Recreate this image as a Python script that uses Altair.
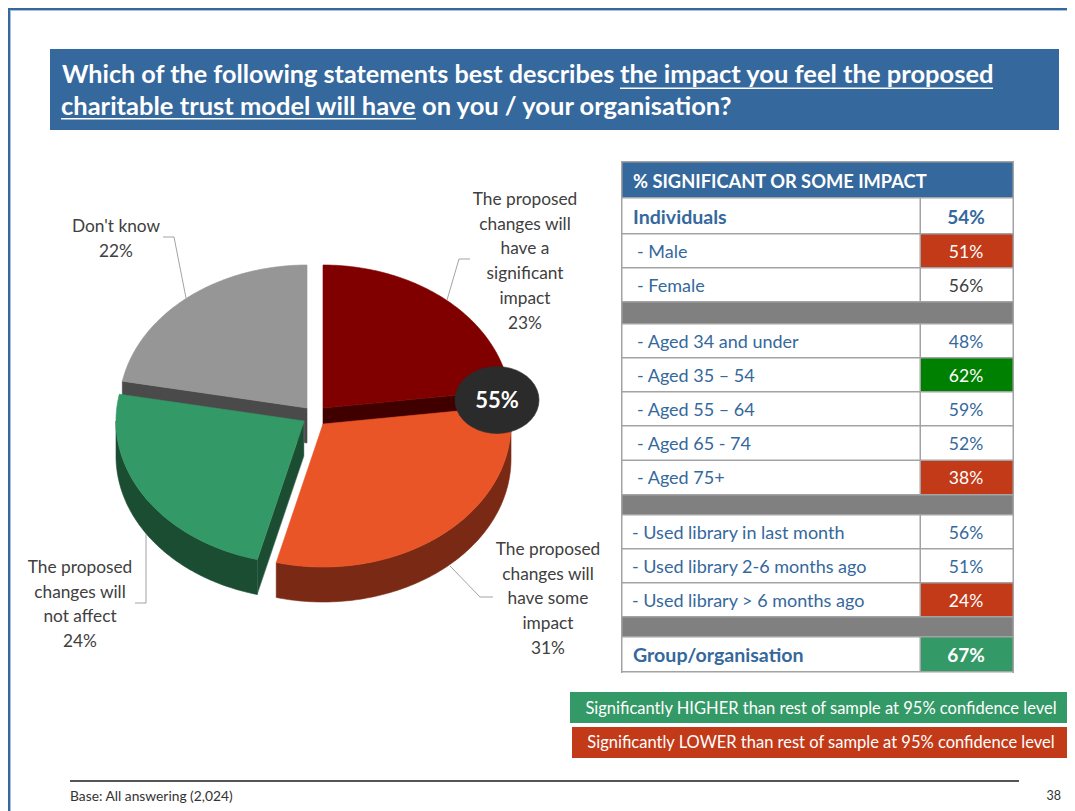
import math
import altair as alt
import pandas as pd

# ---- data -------------------------------------------------------------
pie_names = ["significant", "some", "not_affect", "dont_know"]
pie_values = [23, 31, 24, 22]
pie_labels = [
    ["The proposed", "changes will", "have a", "significant", "impact", "23%"],
    ["The proposed", "changes will", "have some", "impact", "31%"],
    ["The proposed", "changes will", "not affect", "24%"],
    ["Don't know", "22%"],
]
callout = "55%"

table_header = "% SIGNIFICANT OR SOME IMPACT"
table_labels = ["Individuals", "- Male", "- Female", None,
                "- Aged 34 and under", "- Aged 35 – 54", "- Aged 55 – 64", "- Aged 65 - 74", "- Aged 75+", None,
                "- Used library in last month", "- Used library 2-6 months ago", "- Used library > 6 months ago", None,
                "Group/organisation"]
table_values = ["54%", "51%", "56%", None, "48%", "62%", "59%", "52%", "38%", None, "56%", "51%", "24%", None, "67%"]
table_status = ["b", "low", "k", None, "n", "hi", "n", "n", "low", None, "n", "n", "low", None, "bhi"]

title_parts = ["Which of the following statements best describes",
               "the impact you feel the proposed",
               "charitable trust model will have",
               "on you / your organisation?"]
legend_texts = ["Significantly HIGHER than rest of sample at 95% confidence level",
                "Significantly LOWER than rest of sample at 95% confidence level"]
footer_text = "Base: All answering (2,024)"
page_number = "38"

# ---- style ------------------------------------------------------------
FONT = "Lato"
BLUE = "#35689c"
RED = "#c33a19"
GREEN = "#339966"
DKGREEN = "#008000"
GRAY = "#808080"
LINE = "#a3a3a3"
TXT = "#404040"

W, H = 1059, 803
xs = alt.Scale(domain=[8, 8 + W], range=[0, W])
ys = alt.Scale(domain=[8, 8 + H], range=[0, H])
layers = []


def X(f):
    return alt.X(f, type="quantitative", scale=xs, axis=None)


def Y(f):
    return alt.Y(f, type="quantitative", scale=ys, axis=None)


def rect(x0, x1, y0, y1, color):
    d = pd.DataFrame({"a": [x0], "b": [min(x1, 8 + W)], "c": [y0], "d": [y1]})
    layers.append(alt.Chart(d).mark_rect(color=color, strokeWidth=0).encode(
        x=X("a"), x2="b", y=Y("c"), y2="d"))


def text(x, y, s, size=16, color=TXT, weight="normal", align="left"):
    d = pd.DataFrame({"a": [x], "b": [y + 1], "t": [s]})
    layers.append(alt.Chart(d).mark_text(font=FONT, fontSize=size, color=color, fontWeight=weight,
                                         align=align, baseline="middle").encode(
        x=X("a"), y=Y("b"), text="t:N"))


def poly(points, color, stroke=None, sw=0.6):
    d = pd.DataFrame({"a": [p[0] for p in points], "b": [p[1] for p in points], "o": range(len(points))})
    layers.append(alt.Chart(d).mark_line(fill=color, stroke=stroke or color, strokeWidth=sw,
                                         interpolate="linear-closed").encode(
        x=X("a"), y=Y("b"), order=alt.Order("o:Q")))


def path(points, color, sw=1.0):
    d = pd.DataFrame({"a": [p[0] for p in points], "b": [p[1] for p in points], "o": range(len(points))})
    layers.append(alt.Chart(d).mark_line(color=color, strokeWidth=sw).encode(
        x=X("a"), y=Y("b"), order=alt.Order("o:Q")))


# ---- frame and title --------------------------------------------------
rect(8, 1075, 8, 10, BLUE)
rect(8, 10, 8, 811, BLUE)
rect(10, 1075, 10, 11, "#a9c0d8")
rect(10, 11, 10, 811, "#a9c0d8")
rect(50, 1059, 49, 130, BLUE)
text(62, 74, title_parts[0], 25.2, "white", "bold")
text(620, 74, title_parts[1], 25.5, "white", "bold")
text(61, 106, title_parts[2], 25.5, "white", "bold")
text(422, 106, title_parts[3], 25.5, "white", "bold")
rect(620, 993, 87.5, 89, "white")
rect(61, 416, 118, 119.5, "white")

# ---- pie --------------------------------------------------------------
RX, RY, DEPTH = 188, 143, 35
centers = [(323, 408), (323, 424), (304, 421), (307, 408)]
tops = ["#800000", "#e95526", "#339966", "#969696"]
cut_walls = ["#400000", "#7a2a14", "#1b4d33", "#4a4a4a"]
outer_walls = ["#400000", "#7a2a14", "#1b4d33", "#4a4a4a"]
total = sum(pie_values)
edges = [0]
for v in pie_values:
    edges.append(edges[-1] + v / total * 2 * math.pi)


def arc_pts(c, a0, a1, dy=0):
    n = max(2, int(abs(a1 - a0) * 60))
    return [(c[0] + RX * math.sin(a0 + (a1 - a0) * i / n),
             c[1] - RY * math.cos(a0 + (a1 - a0) * i / n) + dy) for i in range(n + 1)]


def sector(i):
    c = centers[i]
    a0, a1 = edges[i], edges[i + 1]
    if i == 0:
        e = arc_pts(c, a1, a1)[0]
        poly([c, e, (e[0], e[1] + DEPTH), (c[0], c[1] + DEPTH)], cut_walls[i])
    if i == 3:
        e = arc_pts(c, a0, a0)[0]
        poly([c, e, (e[0], e[1] + DEPTH), (c[0], c[1] + DEPTH)], cut_walls[i])
    if i == 2:
        e = arc_pts(c, a0, a0)[0]
        poly([c, e, (e[0], e[1] + DEPTH), (c[0], c[1] + DEPTH)], cut_walls[i], "#6d8f7e", 0.5)
    lo, hi = max(a0, math.pi / 2), min(a1, 1.5 * math.pi)
    if hi > lo:
        up = arc_pts(c, lo, hi)
        dn = arc_pts(c, hi, lo, DEPTH)
        poly(up + dn, outer_walls[i])
    poly([c] + arc_pts(c, a0, a1), tops[i])


for i in [3, 0, 1, 2]:
    sector(i)

# leader lines
path([(163, 237), (174, 237), (186, 298)], LINE)
path([(470, 259), (459, 259), (447, 300)], LINE)
path([(493, 597), (480, 597), (450, 566)], LINE)
path([(135, 603), (146, 603), (146, 534)], LINE)

# labels
label_pos = [(525, 199), (548, 549), (80, 567), (116, 226)]
for (cx, cy), lines in zip(label_pos, pie_labels):
    for k, s in enumerate(lines):
        text(cx, cy + k * 24.7, s, 17.3, TXT, "normal", "center")

# callout
ell = [(497 + 42 * math.cos(t / 40 * 2 * math.pi), 400 + 33.5 * math.sin(t / 40 * 2 * math.pi)) for t in range(40)]
poly(ell, "#2b2b2b")
text(497, 400, callout, 22, "white", "bold", "center")

# ---- table ------------------------------------------------------------
TL, TM, TR = 622, 920, 1013
row_edges = [198, 234, 268, 302, 324, 358, 392, 426, 460.5, 495, 515, 549, 583, 617, 637, 672]
rect(TL, TR, 162, 198, BLUE)
text(633, 181.5, table_header, 18.3, "white", "bold")
cell_fill = {"low": RED, "hi": DKGREEN, "bhi": GREEN}
for r, (lab, val, st) in enumerate(zip(table_labels, table_values, table_status)):
    y0, y1 = row_edges[r], row_edges[r + 1]
    ym = (y0 + y1) / 2 + 0.5
    if lab is None:
        rect(TL, TR, y0, y1, GRAY)
        continue
    if st in cell_fill:
        rect(TM, TR, y0, y1, cell_fill[st])
    bold = st in ("b", "bhi")
    lx = 633 if bold else (632 if lab.startswith("- Used") else 637)
    text(lx, ym, lab, 19.6 if bold else 18, BLUE, "bold" if bold else "normal")
    vcol = "white" if st in cell_fill else (TXT if st == "k" else BLUE)
    text(966, ym, val, 19 if bold else 17.5, vcol, "bold" if bold else "normal", "center")
for r, y in enumerate(row_edges):
    rect(TL, TR, y - 1, y + 0.5, LINE)
rect(TL - 1, TL + 0.5, 161, 673, LINE)
rect(TR - 0.5, TR + 1, 161, 673, LINE)
rect(TL, TR, 161, 162.5, LINE)
for y0, y1 in [(198, 302), (324, 495), (515, 617), (637, 672)]:
    rect(TM - 0.5, TM + 1, y0, y1, LINE)

# ---- legend and footer ------------------------------------------------
rect(570, 1072, 692, 723, GREEN)
rect(572, 1071, 727, 758, RED)
text(821, 708, legend_texts[0], 16.5, "white", "normal", "center")
text(821, 742, legend_texts[1], 16.5, "white", "normal", "center")
rect(70, 1019, 780, 782, "#555555")
text(70, 796, footer_text, 13.8, "#333333")
text(1061, 795, page_number, 12.5, "#333333", "normal", "right")

chart = alt.layer(*layers).properties(width=W, height=H, padding=0, autosize="none",
                                      background="white").configure_view(stroke=None)
chart.save("out.html", embed_options={"renderer": "svg", "actions": False})
